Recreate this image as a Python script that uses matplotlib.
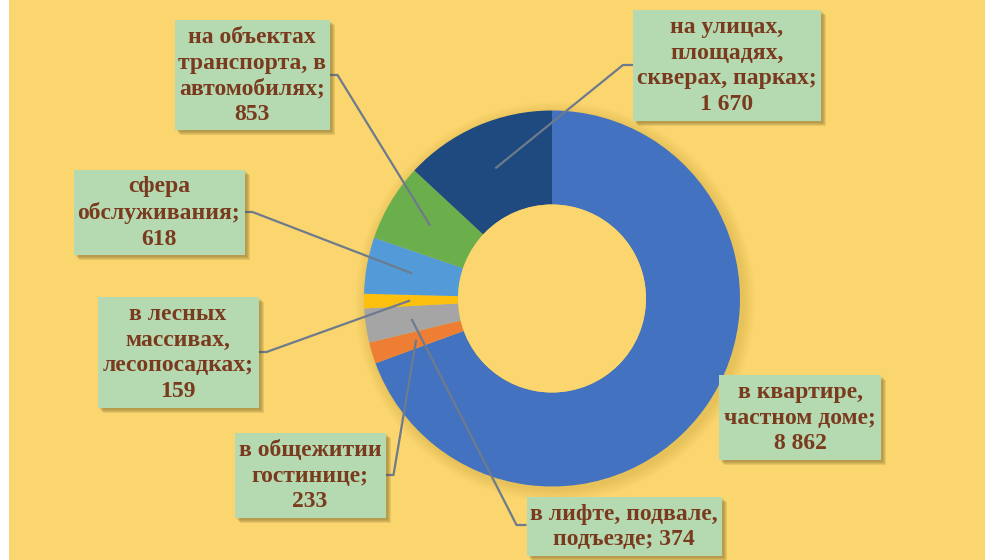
import numpy as np
import matplotlib.pyplot as plt
from matplotlib.patches import Rectangle, Circle

# data
names = ['в квартире,\nчастном доме', 'в общежитии\nгостинице', 'в лифте, подвале,\nподъезде',
         'в лесных\nмассивах,\nлесопосадках', 'сфера\nобслуживания',
         'на объектах\nтранспорта, в\nавтомобилях', 'на улицах,\nплощадях,\nскверах, парках']
values = [8862, 233, 374, 159, 618, 853, 1670]
value_sep = ['\n', '\n', ' ', '\n', '\n', '\n', '\n']
colors = ['#4272C0', '#EE7E33', '#A5A5A5', '#FEC00F', '#539BD8', '#6BAE4C', '#1F4A80']

# label boxes in pixel coords: centre x, centre y, width, height, side of leader line
boxes = [(800, 417, 162, 85, None),
         (310, 475, 151, 85, 'right'),
         (624, 526, 195, 59, 'left'),
         (178, 352, 161, 111, 'right'),
         (159, 212, 171, 85, 'right'),
         (252, 75, 155, 110, 'right'),
         (727, 65, 188, 111, 'left')]
leader_y = [None, 475, 525, 352, 212, 75, 65]

W, H = 985, 560
cx, cy, R = 552, 298.5, 188
bg = '#FBD56D'
box_col = '#B5D9B1'
text_col = '#7A3A1D'
line_col = '#6E7B8C'

fig = plt.figure(figsize=(W / 100, H / 100), dpi=100)
fig.patch.set_facecolor('white')
ax = fig.add_axes([0, 0, 1, 1])

ax.add_patch(Rectangle((9, 0), W - 9, H, facecolor=bg, edgecolor='none', zorder=0))

# soft shadow round the donut
for i in range(10):
    ax.add_patch(Circle((cx + 3, cy + 3), R + 12 - i * 1.2, facecolor='#B08A30',
                        alpha=0.025, edgecolor='none', zorder=1))

# y axis runs downward, so counterclock=True draws clockwise on screen
wedges, _ = ax.pie(values, colors=colors, radius=R, center=(cx, cy), startangle=-90,
                   counterclock=True, wedgeprops=dict(width=R / 2, linewidth=0), frame=False)
for w in wedges:
    w.set_zorder(2)

ax.add_patch(Circle((cx, cy), R / 2, facecolor=bg, edgecolor='none', zorder=2))

for i, w in enumerate(wedges):
    bx, by, bw, bh, side = boxes[i]
    # shadow
    for k in range(4):
        ax.add_patch(Rectangle((bx - bw / 2 + 2 + k, by - bh / 2 + 2 + k), bw, bh,
                               facecolor='#5A4A20', alpha=0.12, edgecolor='none', zorder=4))
    ax.add_patch(Rectangle((bx - bw / 2, by - bh / 2), bw, bh, facecolor=box_col,
                           edgecolor='none', zorder=5))
    label = names[i] + ';' + value_sep[i] + f'{values[i]:,}'.replace(',', ' ')
    ax.text(bx, by + 1, label, ha='center', va='center', fontsize=17, fontweight='bold',
            family='Liberation Serif', color=text_col, linespacing=1.28, zorder=6)

    if side is None:
        continue
    theta = np.deg2rad((w.theta1 + w.theta2) / 2)
    ax0 = cx + 0.755 * R * np.cos(theta)
    ay0 = cy + 0.755 * R * np.sin(theta)
    ly = leader_y[i]
    if side == 'right':
        ex = bx + bw / 2
        sx = ex + 8
    else:
        ex = bx - bw / 2
        sx = ex - 10
    ax.plot([ex, sx, ax0], [ly, ly, ay0], color=line_col, lw=1.6, zorder=3,
            solid_capstyle='butt')

ax.set_xlim(0, W)
ax.set_ylim(H, 0)
ax.set_aspect('auto')
ax.axis('off')

fig.savefig('out.png', dpi=100, facecolor=fig.get_facecolor())
